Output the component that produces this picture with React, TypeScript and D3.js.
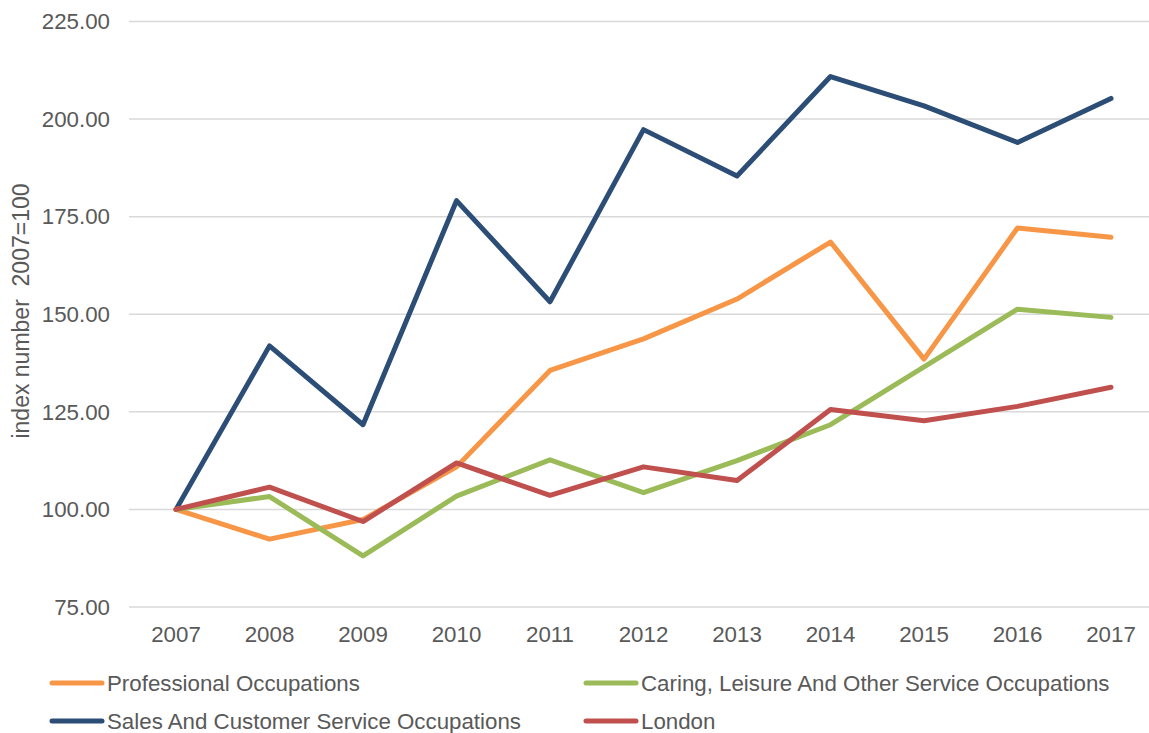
import React from "react";
import * as d3 from "d3";

const years = ["2007", "2008", "2009", "2010", "2011", "2012", "2013", "2014", "2015", "2016", "2017"];
const professional = [100, 92.4, 97.4, 110.9, 135.6, 143.7, 153.9, 168.5, 138.5, 172.1, 169.7];
const caring = [100, 103.3, 88.1, 103.4, 112.7, 104.3, 112.5, 121.7, 136.5, 151.3, 149.2];
const sales = [100, 141.9, 121.7, 179.1, 153.2, 197.3, 185.4, 210.9, 203.4, 194.0, 205.3];
const london = [100, 105.7, 96.9, 111.9, 103.6, 110.9, 107.4, 125.6, 122.7, 126.4, 131.3];
const yTicks = [75, 100, 125, 150, 175, 200, 225];

const series = [
  { name: "Professional Occupations", values: professional, color: "#F79646" },
  { name: "Caring, Leisure And Other Service Occupations", values: caring, color: "#9BBB59" },
  { name: "Sales And Customer Service Occupations", values: sales, color: "#2C4D75" },
  { name: "London", values: london, color: "#C0504D" },
];
// draw order: blue first, then orange, green, red on top
const drawOrder = [2, 0, 1, 3];

const W = 1149;
const H = 733;
const FONT = "'Liberation Sans', Arial, sans-serif";
const FS = 22.3;

export default function App() {
  const x = d3.scalePoint<string>().domain(years).range([176, 1111]);
  const y = d3.scaleLinear().domain([75, 225]).range([607, 21.5]);
  const line = d3
    .line<number>()
    .x((_, i) => x(years[i]) as number)
    .y((v) => y(v));

  const legendPos = [
    { lx: 52, ty: 683 },
    { lx: 586, ty: 683 },
    { lx: 52, ty: 721 },
    { lx: 586, ty: 721 },
  ];

  return (
    <div style={{ position: "absolute", left: 0, top: 0 }}>
      <svg width={W} height={H} style={{ display: "block", background: "#fff" }}>
        <rect width={W} height={H} fill="#fff" />
        {yTicks.map((t) => (
          <g key={t}>
            <line x1={129} x2={1158} y1={y(t)} y2={y(t)} stroke="#D9D9D9" strokeWidth={1.5} />
            <text
              x={110}
              y={y(t)}
              dy="0.35em"
              textAnchor="end"
              fontFamily={FONT}
              fontSize={FS}
              fill="#595959"
            >
              {t.toFixed(2)}
            </text>
          </g>
        ))}
        {years.map((yr) => (
          <text
            key={yr}
            x={x(yr) as number}
            y={642}
            textAnchor="middle"
            fontFamily={FONT}
            fontSize={FS}
            fill="#595959"
          >
            {yr}
          </text>
        ))}
        <text
          transform={`translate(29, 311) rotate(-90)`}
          textAnchor="middle"
          fontFamily={FONT}
          fontSize={23}
          fill="#595959"
          style={{ whiteSpace: "pre" }}
        >
          {"index number  2007=100"}
        </text>
        {drawOrder.map((i) => (
          <path
            key={series[i].name}
            d={line(series[i].values) || ""}
            fill="none"
            stroke={series[i].color}
            strokeWidth={5}
            strokeLinejoin="round"
            strokeLinecap="round"
          />
        ))}
        {series.map((s, i) => (
          <g key={s.name}>
            <line
              x1={legendPos[i].lx}
              x2={legendPos[i].lx + 50}
              y1={legendPos[i].ty}
              y2={legendPos[i].ty}
              stroke={s.color}
              strokeWidth={5}
              strokeLinecap="round"
            />
            <text
              x={legendPos[i].lx + 55}
              y={legendPos[i].ty}
              dy="0.35em"
              fontFamily={FONT}
              fontSize={FS}
              fill="#595959"
            >
              {s.name}
            </text>
          </g>
        ))}
      </svg>
    </div>
  );
}
